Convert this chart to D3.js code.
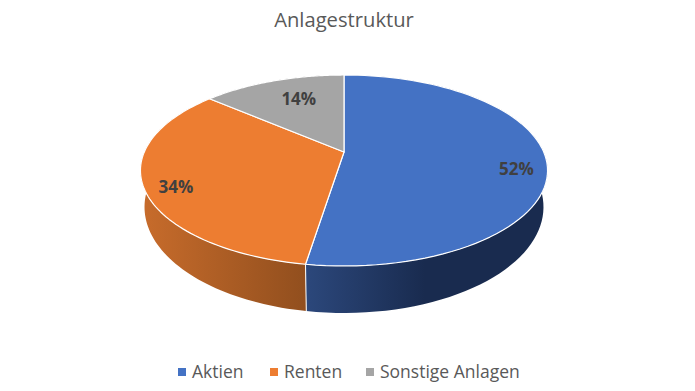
<!DOCTYPE html>
<html><head><meta charset="utf-8">
<script src="https://cdn.jsdelivr.net/npm/d3@7"></script>
<style>html,body{margin:0;background:#fff}svg{display:block}text{font-family:"Open Sans",sans-serif}</style>
</head><body><svg id="c" width="695" height="391"></svg>
<script>
const chartTitle = "Anlagestruktur";
const categories = ["Aktien", "Renten", "Sonstige Anlagen"];
const shares = [52.49, 33.81, 13.7];
const faceColors = ["#4472C4", "#ED7D31", "#A5A5A5"];
const wallStart = ["#2C487C", "#C66B2B", "#707070"];
const wallEnd = ["#192B4F", "#924F1E", "#707070"];

const W = 695, H = 391;
const svg = d3.select("#c");
const color = d3.scaleOrdinal().domain(categories).range(faceColors);

// perspective disc projection
const apex = {x: 344, y: 152}, A = 199.7, B = 91.9, k = -0.1937;
const project = (a, r = 1) => {
  const u = Math.sin(a) * r, v = -Math.cos(a) * r, d = 1 + k * v;
  return [apex.x + A * u / d, apex.y + B * v / d];
};
const ellipseCy = 170.5, lowerCy = 207, lowerSx = 0.98, lowerSy = 1.11;
const lower = ([x, y]) => [apex.x + (x - apex.x) * lowerSx, lowerCy + (y - ellipseCy) * lowerSy];

const arcs = d3.pie().sort(null).value(d => d)(shares);
const sweep = (s, e) => d3.range(0, 81).map(i => s + (e - s) * i / 80);
const line = d3.line();

const defs = svg.append("defs");
const wallX = [[304, 425], [146, 304], [200, 344]];
arcs.forEach((d, i) => {
  const g = defs.append("linearGradient").attr("id", "w" + i)
    .attr("gradientUnits", "userSpaceOnUse")
    .attr("x1", wallX[i][0]).attr("x2", wallX[i][1]).attr("y1", 0).attr("y2", 0);
  g.append("stop").attr("offset", 0).attr("stop-color", wallStart[i]);
  g.append("stop").attr("offset", 1).attr("stop-color", wallEnd[i]);
});

// walls
arcs.forEach((d, i) => {
  const pts = sweep(d.startAngle, d.endAngle).map(a => project(a));
  const poly = pts.concat(pts.slice().reverse().map(lower));
  svg.append("path").attr("d", line(poly) + "Z")
    .attr("fill", `url(#w${i})`).attr("stroke", "none");
});
// seam between Aktien and Renten on the front wall
const seamTop = project(arcs[0].endAngle);
svg.append("path").attr("d", line([seamTop, lower(seamTop)]))
  .attr("stroke", "#fff").attr("stroke-width", 1).attr("fill", "none");

// faces
arcs.forEach((d, i) => {
  const pts = sweep(d.startAngle, d.endAngle).map(a => project(a));
  svg.append("path").attr("d", line([[apex.x, apex.y], ...pts]) + "Z")
    .attr("fill", color(categories[i]))
    .attr("stroke", "#fff").attr("stroke-width", 1.2).attr("stroke-linejoin", "round");
});

// data labels
const pct = d3.format(".0f");
const labelNudge = [[-1, 11], [3, 6], [17, 9]];
arcs.forEach((d, i) => {
  const [x, y] = project((d.startAngle + d.endAngle) / 2, 0.86);
  svg.append("text").attr("x", x + labelNudge[i][0]).attr("y", y + labelNudge[i][1] + 6)
    .attr("text-anchor", "middle").attr("font-size", 17).attr("font-weight", 700)
    .attr("fill", "#404040").text(pct(d.value) + "%");
});

// title
svg.append("text").attr("x", 344).attr("y", 27).attr("text-anchor", "middle")
  .attr("font-size", 20.2).attr("fill", "#595959").text(chartTitle);

// legend
const legendX = [178, 270, 366];
const legend = svg.selectAll(".lg").data(categories).join("g").attr("class", "lg")
  .attr("transform", (d, i) => `translate(${legendX[i]},368)`);
legend.append("rect").attr("width", 8).attr("height", 8).attr("fill", d => color(d));
legend.append("text").attr("x", 14).attr("y", 10).attr("font-size", 17.5)
  .attr("fill", "#595959").text(d => d);
</script></body></html>
